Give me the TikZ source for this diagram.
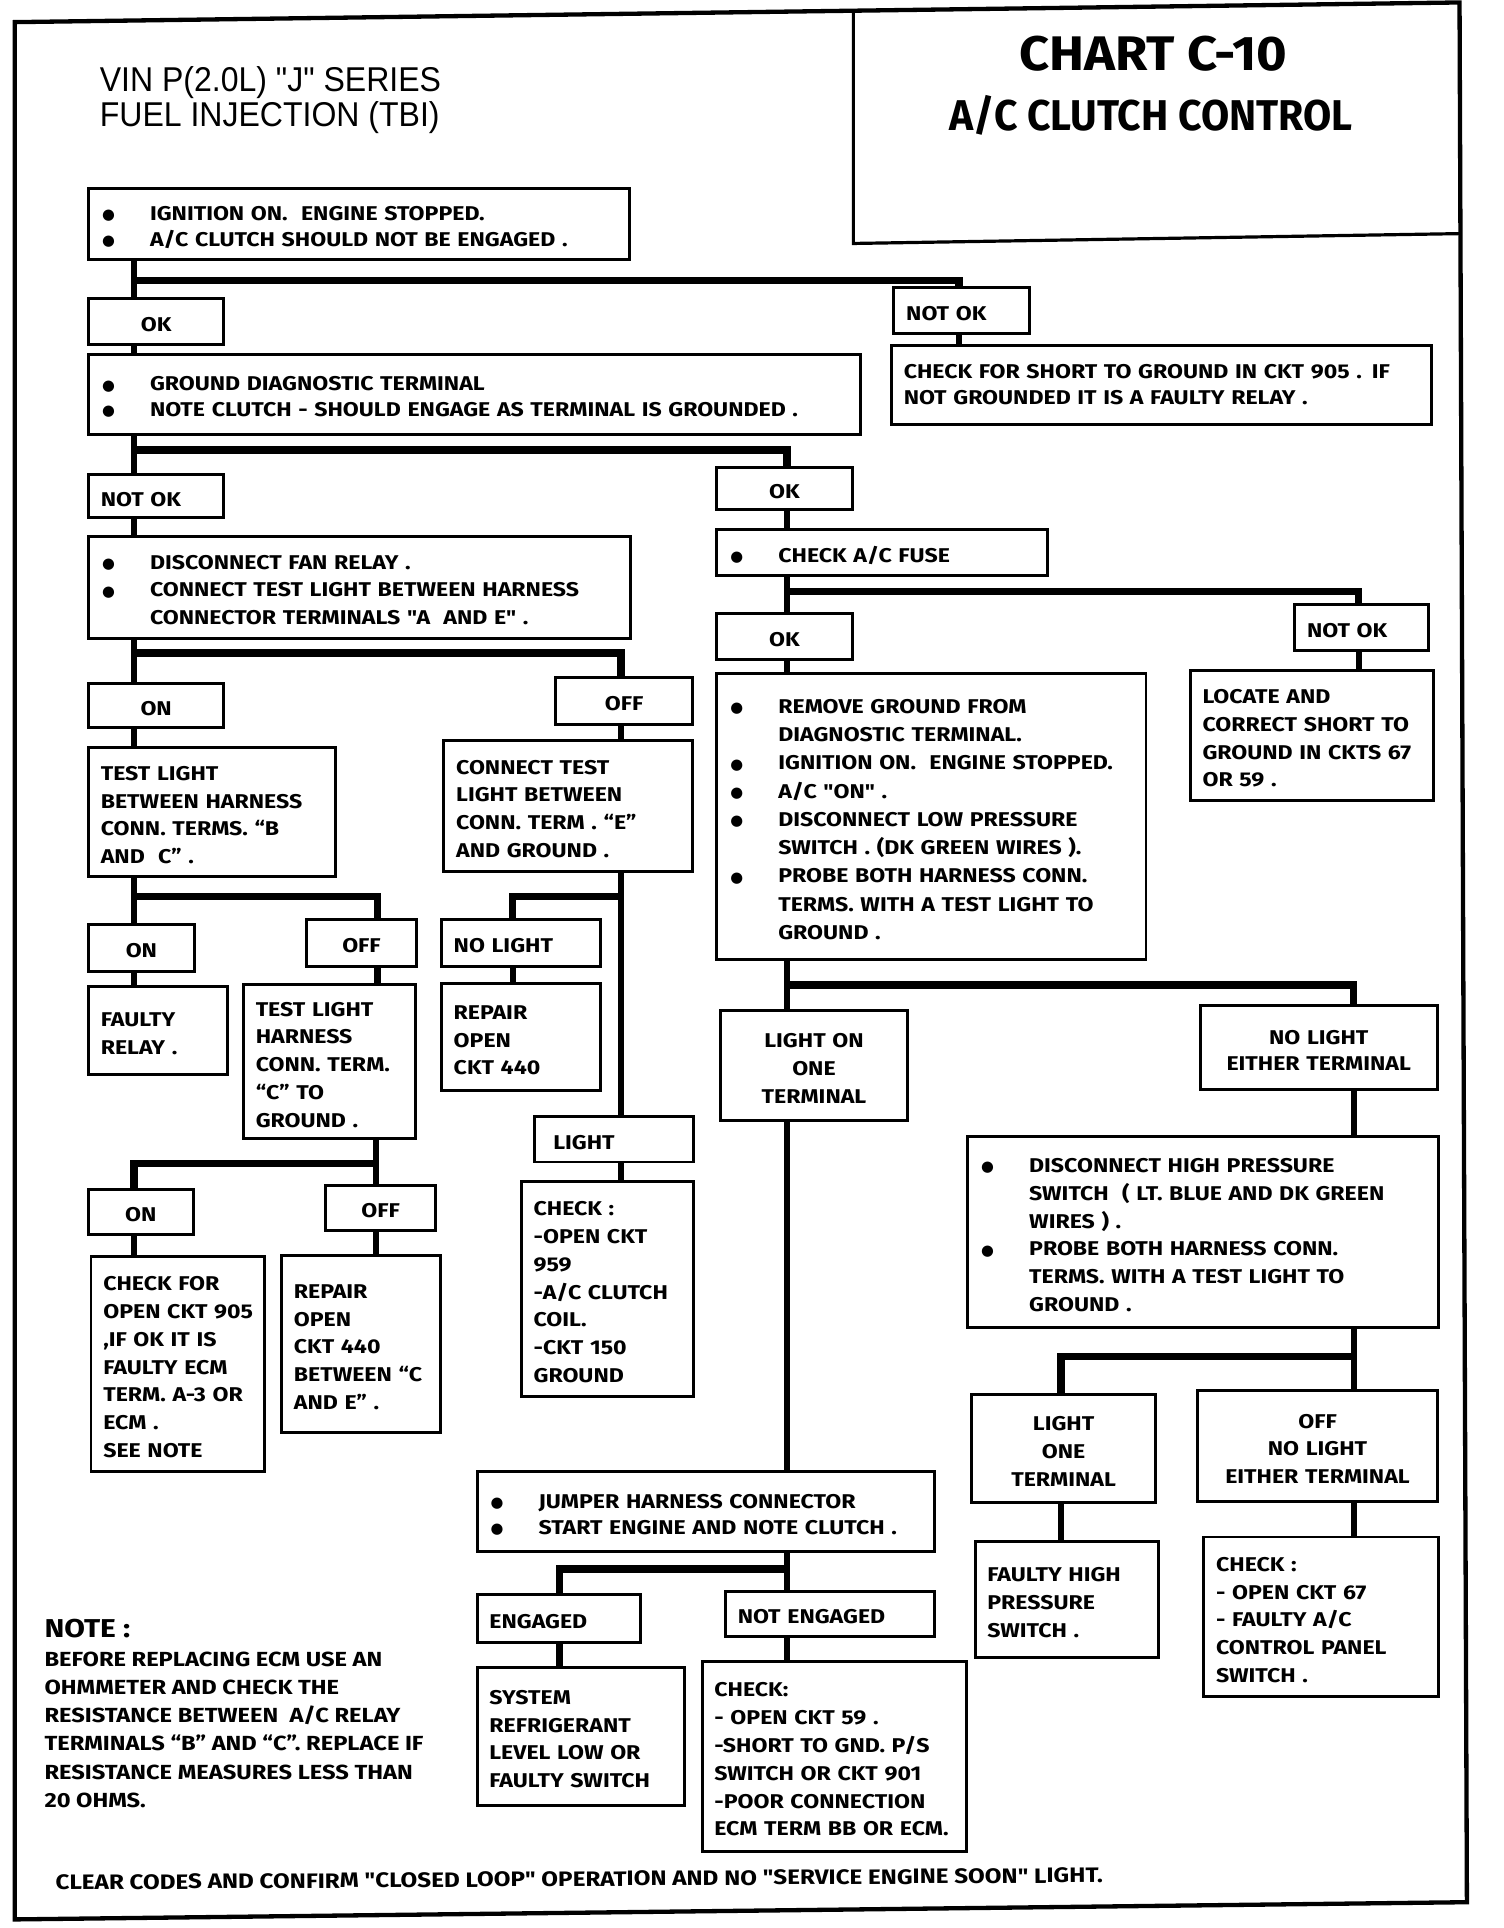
\documentclass[tikz,border=0pt]{standalone}
\usepackage{fontspec}
\usepackage{graphicx}
\setmainfont{Fira Sans}
\newfontfamily\chartfont[FakeStretch=1.16]{Fira Sans}
\newfontfamily\charttitlefont[FakeStretch=1.08]{Fira Sans}
\newfontfamily\chartsubfont[FakeStretch=0.95]{Fira Sans}
\newfontfamily\titlefont[FakeStretch=0.93]{Liberation Sans}
\newfontfamily\dotfont{DejaVu Sans}
\newlength\boxshift
\setlength\boxshift{3.5pt}
\newcommand\boxfont{\chartfont\bfseries\fontsize{16.2}{22.6}\selectfont}
\newcommand\boxfontb{\chartfont\bfseries\fontsize{16.2}{21}\selectfont}
\newcommand\notefont{\chartfont\bfseries\fontsize{16.6}{23}\selectfont}
\newcommand\bul{\makebox[40pt][l]{\hspace{1pt}\raisebox{0.5pt}{\dotfont\fontsize{12}{12}\selectfont ●}}}
\newcommand\ind{\hspace*{40pt}}
\newcommand\boxlines[1]{\noindent\raisebox{-\boxshift}[\height][\depth]{\begin{tabular}{@{}l@{}}#1\end{tabular}}}
\newcommand\boxclines[1]{\raisebox{-\boxshift}[\height][\depth]{\begin{tabular}{@{}c@{}}#1\end{tabular}}}
\newcommand\mkbox[7][]{%
  \pgfmathsetmacro\mkW{#5-#3}\pgfmathsetmacro\mkH{#6-#4}\pgfmathsetmacro\mkT{#5-#3-20}%
  \pgfmathsetmacro\mkX{(#3+#5)/2}\pgfmathsetmacro\mkY{(#4+#6)/2}%
  \node[chartbox,minimum width=\mkW pt,minimum height=\mkH pt,text width=\mkT pt,#1] (#2) at (\mkX,\mkY) {\boxlines{#7}};}
\newcommand\mkcbox[7][]{%
  \pgfmathsetmacro\mkW{#5-#3}\pgfmathsetmacro\mkH{#6-#4}\pgfmathsetmacro\mkT{#5-#3-20}%
  \pgfmathsetmacro\mkX{(#3+#5)/2}\pgfmathsetmacro\mkY{(#4+#6)/2}%
  \node[chartbox,align=center,minimum width=\mkW pt,minimum height=\mkH pt,text width=\mkT pt,#1] (#2) at (\mkX,\mkY) {\boxclines{#7}};}
\begin{document}
\begin{tikzpicture}[x=1pt,y=-1pt,
  chartbox/.style={draw,line width=2.4pt,inner xsep=10pt,inner ysep=0pt,align=left,font=\boxfont},
  conn/.style={line width=5pt},
  busline/.style={line width=6pt,line join=miter},
  outerframe/.style={line width=3.5pt,line join=miter}]
\fill[white] (0,0) rectangle (1223,1568);
\draw[outerframe] (12,18) -- (1187,2) -- (1193,1547) -- (12,1561) -- cycle;
\draw[line width=2.6pt] (694,9) -- (694,198) -- (1187,190);

% titles
\node[anchor=base west,font=\titlefont\fontsize{28}{30}\selectfont,inner sep=0] (t1) at (81,74.5) {VIN P(2.0L) "J" SERIES};
\node[anchor=base west,font=\titlefont\fontsize{28}{30}\selectfont,inner sep=0] (t2) at (81,103) {FUEL INJECTION (TBI)};
\node[anchor=base,font=\charttitlefont\bfseries\fontsize{39.5}{44}\selectfont,inner sep=0] (c1) at (938,57) {CHART C-10};
\node[anchor=base,font=\chartsubfont\bfseries\fontsize{35}{38}\selectfont,inner sep=0] (c2) at (936,106) {A/C CLUTCH CONTROL};

% boxes
\mkbox[font=\boxfontb]{b1}{72}{153}{512}{211}{\bul IGNITION ON.\ \ ENGINE STOPPED.\\ \bul A/C CLUTCH SHOULD NOT BE ENGAGED .}
\mkcbox{ok1}{72}{243}{182}{280}{OK}
\mkbox{notok1}{727}{234}{837}{271}{NOT OK}
\mkbox[font=\boxfontb]{b2}{72}{288}{700}{353}{\bul GROUND DIAGNOSTIC TERMINAL\\ \bul NOTE CLUTCH - SHOULD ENGAGE AS TERMINAL IS GROUNDED .}
\mkbox[font={\boxfontb\setlength\boxshift{1pt}}]{b3}{725}{281}{1164}{345}{CHECK FOR SHORT TO GROUND IN CKT 905 . IF\\ NOT GROUNDED IT IS A FAULTY RELAY .}
\mkbox{notok2}{72}{386}{182}{421}{NOT OK}
\mkcbox{ok2}{583}{380}{693}{414}{OK}
\mkbox{b4}{72}{436}{513}{519}{\bul DISCONNECT FAN RELAY .\\ \bul CONNECT TEST LIGHT BETWEEN HARNESS\\ \ind CONNECTOR TERMINALS "A\ \ AND E" .}
\mkbox{b5}{583}{431}{852}{468}{\bul CHECK A/C FUSE}
\mkcbox{ok3}{583}{499}{693}{536}{OK}
\mkbox{notok3}{1053}{492}{1162}{529}{NOT OK}
\mkbox{b6}{968}{545}{1166}{651}{LOCATE AND\\ CORRECT SHORT TO\\ GROUND IN CKTS 67\\ OR 59 .}
\mkbox[font=\chartfont\bfseries\fontsize{16.2}{23}\selectfont]{b7}{583}{548}{932}{780}{\bul REMOVE GROUND FROM\\ \ind DIAGNOSTIC TERMINAL.\\ \bul IGNITION ON.\ \ ENGINE STOPPED.\\ \bul A/C "ON" .\\ \bul DISCONNECT LOW PRESSURE\\ \ind SWITCH . (DK GREEN WIRES ).\\ \bul PROBE BOTH HARNESS CONN.\\ \ind TERMS. WITH A TEST LIGHT TO\\ \ind GROUND .}
\mkcbox{on1}{72}{556}{182}{592}{ON}
\mkcbox{off1}{452}{551}{563}{589}{OFF}
\mkbox{b8}{72}{608}{273}{713}{TEST LIGHT\\ BETWEEN HARNESS\\ CONN. TERMS. “B\\ AND\ \ C” .}
\mkbox{b9}{361}{602}{563}{709}{CONNECT TEST\\ LIGHT BETWEEN\\ CONN. TERM . “E”\\ AND GROUND .}
\mkcbox{on2}{72}{752}{158}{790}{ON}
\mkcbox{off2}{249}{748}{339}{786}{OFF}
\mkbox{b10}{72}{802}{185}{874}{FAULTY\\ RELAY .}
\mkbox{b11}{198}{801}{338}{926}{TEST LIGHT\\ HARNESS\\ CONN. TERM.\\ “C” TO\\ GROUND .}
\mkbox{nolight1}{359}{748}{488}{786}{NO LIGHT}
\mkbox{b12}{359}{800}{488}{887}{REPAIR\\ OPEN\\ CKT 440}
\mkbox{light1}{435}{908}{564}{945}{\hspace*{5pt}LIGHT}
\mkbox{b13}{424}{961}{564}{1136}{CHECK :\\ -OPEN CKT\\ 959\\ -A/C CLUTCH\\ COIL.\\ -CKT 150\\ GROUND}
\mkcbox{on3}{72}{967}{157}{1004}{ON}
\mkcbox{off3}{265}{964}{354}{1001}{OFF}
\mkbox{b14}{74}{1022}{215}{1197}{CHECK FOR\\ OPEN CKT 905\\ ,IF OK IT IS\\ FAULTY ECM\\ TERM. A-3 OR\\ ECM .\\ SEE NOTE}
\mkbox{b15}{229}{1021}{358}{1165}{REPAIR\\ OPEN\\ CKT 440\\ BETWEEN “C\\ AND E” .}
\mkcbox{lighton}{586}{822}{738}{911}{LIGHT ON\\ ONE\\ TERMINAL}
\mkcbox[font=\boxfontb]{nolight2}{976}{818}{1169}{886}{NO LIGHT\\ EITHER TERMINAL}
\mkbox{b16}{787}{924}{1170}{1080}{\bul DISCONNECT HIGH PRESSURE\\ \ind SWITCH\ \ ( LT. BLUE AND DK GREEN\\ \ind WIRES ) .\\ \bul PROBE BOTH HARNESS CONN.\\ \ind TERMS. WITH A TEST LIGHT TO\\ \ind GROUND .}
\mkcbox{lightone}{790}{1134}{940}{1222}{LIGHT\\ ONE\\ TERMINAL}
\mkcbox{offnolight}{974}{1131}{1169}{1221}{OFF\\ NO LIGHT\\ EITHER TERMINAL}
\mkbox{b17}{793}{1254}{942}{1348}{FAULTY HIGH\\ PRESSURE\\ SWITCH .}
\mkbox{b18}{979}{1250}{1170}{1380}{CHECK :\\ - OPEN CKT 67\\ - FAULTY A/C\\ CONTROL PANEL\\ SWITCH .}
\mkbox[font=\boxfontb]{b19}{388}{1197}{760}{1262}{\bul JUMPER HARNESS CONNECTOR\\ \bul START ENGINE AND NOTE CLUTCH .}
\mkbox{engaged}{388}{1297}{521}{1336}{ENGAGED}
\mkbox{notengaged}{590}{1294}{760}{1331}{NOT ENGAGED}
\mkbox{b20}{388}{1356}{557}{1468}{SYSTEM\\ REFRIGERANT\\ LEVEL LOW OR\\ FAULTY SWITCH}
\mkbox{b21}{571}{1351}{786}{1506}{CHECK:\\ - OPEN CKT 59 .\\ -SHORT TO GND. P/S\\ SWITCH OR CKT 901\\ -POOR CONNECTION\\ ECM TERM BB OR ECM.}

% note and footer
\node[anchor=base west,font=\chartfont\bfseries\fontsize{21}{26}\selectfont,inner sep=0] (notehead) at (36,1332) {NOTE :};
\node[anchor=north west,align=left,font=\notefont,inner sep=0] (notebody) at (36,1343) {BEFORE REPLACING ECM USE AN\\ OHMMETER AND CHECK THE\\ RESISTANCE BETWEEN\ \ A/C RELAY\\ TERMINALS “B” AND “C”. REPLACE IF\\ RESISTANCE MEASURES LESS THAN\\ 20 OHMS.};
\node[anchor=base west,font=\chartfont\bfseries\fontsize{17}{20}\selectfont,inner sep=0,rotate=0.4] (footer) at (45,1537) {CLEAR CODES AND CONFIRM "CLOSED LOOP" OPERATION AND NO "SERVICE ENGINE SOON" LIGHT.};

% bus x positions
\coordinate (vA) at (109,0);
\coordinate (vB) at (307,0);
\coordinate (vC) at (505,0);
\coordinate (vD) at (417,0);
\coordinate (vE) at (306,0);
\coordinate (vF) at (640,0);
\coordinate (vG) at (1101,0);
\coordinate (vH) at (863,0);
\coordinate (vI) at (455,0);
\coordinate (vJ) at (780,0);
\coordinate (vK) at (1105,0);
% junctions
\coordinate (j1) at (109,228);
\coordinate (j2) at (109,366);
\coordinate (j3) at (640,481);
\coordinate (j4) at (109,531);
\coordinate (j5) at (109,729);
\coordinate (j6) at (505,729);
\coordinate (j7) at (306,946);
\coordinate (j8) at (640,801);
\coordinate (j9) at (1101,1103);
\coordinate (j10) at (640,1276);

% connectors
\draw[conn] (b1.south -| vA) -- (ok1.north -| vA);
\draw[busline] (j1) -| (notok1.north -| vJ);
\draw[conn] (ok1.south -| vA) -- (b2.north -| vA);
\draw[conn] (notok1.south -| vJ) -- (b3.north -| vJ);
\draw[conn] (b2.south -| vA) -- (notok2.north -| vA);
\draw[busline] (j2) -| (ok2.north -| vF);
\draw[conn] (notok2.south -| vA) -- (b4.north -| vA);
\draw[conn] (ok2.south -| vF) -- (b5.north -| vF);
\draw[conn] (b5.south -| vF) -- (ok3.north -| vF);
\draw[busline] (j3) -| (notok3.north -| vK);
\draw[conn] (notok3.south -| vK) -- (b6.north -| vK);
\draw[conn] (ok3.south -| vF) -- (b7.north -| vF);
\draw[conn] (b4.south -| vA) -- (on1.north -| vA);
\draw[busline] (j4) -| (off1.north -| vC);
\draw[conn] (on1.south -| vA) -- (b8.north -| vA);
\draw[conn] (off1.south -| vC) -- (b9.north -| vC);
\draw[conn] (b8.south -| vA) -- (on2.north -| vA);
\draw[busline] (j5) -| (off2.north -| vB);
\draw[conn] (on2.south -| vA) -- (b10.north -| vA);
\draw[conn] (off2.south -| vB) -- (b11.north -| vB);
\draw[conn] (b9.south -| vC) -- (light1.north -| vC);
\draw[busline] (j6) -| (nolight1.north -| vD);
\draw[conn] (nolight1.south -| vD) -- (b12.north -| vD);
\draw[conn] (light1.south -| vC) -- (b13.north -| vC);
\draw[conn] (b11.south -| vE) -- (off3.north -| vE);
\draw[busline] (j7) -| (on3.north -| vA);
\draw[conn] (on3.south -| vA) -- (b14.north -| vA);
\draw[conn] (off3.south -| vE) -- (b15.north -| vE);
\draw[conn] (b7.south -| vF) -- (lighton.north -| vF);
\draw[busline] (j8) -| (nolight2.north -| vG);
\draw[conn] (nolight2.south -| vG) -- (b16.north -| vG);
\draw[conn] (b16.south -| vG) -- (offnolight.north -| vG);
\draw[busline] (j9) -| (lightone.north -| vH);
\draw[conn] (lightone.south -| vH) -- (b17.north -| vH);
\draw[conn] (offnolight.south -| vG) -- (b18.north -| vG);
\draw[conn] (lighton.south -| vF) -- (b19.north -| vF);
\draw[conn] (b19.south -| vF) -- (notengaged.north -| vF);
\draw[busline] (j10) -| (engaged.north -| vI);
\draw[conn] (engaged.south -| vI) -- (b20.north -| vI);
\draw[conn] (notengaged.south -| vF) -- (b21.north -| vF);
\end{tikzpicture}
\end{document}
